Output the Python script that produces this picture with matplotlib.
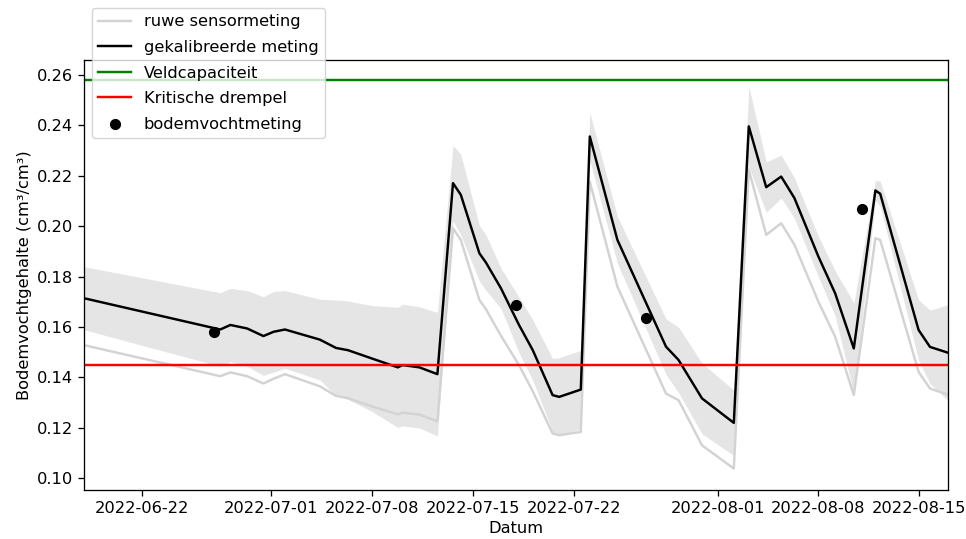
import matplotlib
matplotlib.use("Agg")
import matplotlib.pyplot as plt
import matplotlib.dates as mdates
import numpy as np
import pandas as pd

# --- data ---
tijdstippen = [
    "2022-06-18 00:00", "2022-06-27 11:00", "2022-06-28 04:00", "2022-06-29 08:00",
    "2022-06-30 11:00", "2022-07-01 04:00", "2022-07-01 23:00", "2022-07-04 09:00",
    "2022-07-05 12:00", "2022-07-06 08:00", "2022-07-08 00:00", "2022-07-09 19:00",
    "2022-07-10 03:00", "2022-07-11 07:00", "2022-07-12 13:00", "2022-07-13 15:00",
    "2022-07-14 04:00", "2022-07-15 11:00", "2022-07-15 22:00", "2022-07-16 23:00",
    "2022-07-18 05:00", "2022-07-19 04:00", "2022-07-20 13:00", "2022-07-21 00:00",
    "2022-07-22 12:00", "2022-07-23 03:00", "2022-07-25 01:00", "2022-07-28 10:00",
    "2022-07-29 07:00", "2022-07-30 22:00", "2022-08-02 03:00", "2022-08-03 04:00",
    "2022-08-04 09:00", "2022-08-05 10:00", "2022-08-06 08:00", "2022-08-08 00:00",
    "2022-08-09 04:00", "2022-08-10 11:00", "2022-08-11 23:00", "2022-08-12 07:00",
    "2022-08-14 23:00", "2022-08-15 18:00", "2022-08-17 00:00",
]
gekalibreerd = [
    0.1714, 0.1590, 0.1608, 0.1594, 0.1564, 0.1581, 0.1590, 0.1550,
    0.1517, 0.1508, 0.1475, 0.1440, 0.1449, 0.1440, 0.1413, 0.2170,
    0.2124, 0.1892, 0.1855, 0.1753, 0.1608, 0.1508, 0.1330, 0.1323,
    0.1352, 0.2355, 0.1945, 0.1522, 0.1469, 0.1317, 0.1220, 0.2395,
    0.2154, 0.2196, 0.2111, 0.1879, 0.1733, 0.1515, 0.2141, 0.2128,
    0.1588, 0.1521, 0.1498,
]
ruw = [
    0.1528, 0.1405, 0.1420, 0.1405, 0.1376, 0.1395, 0.1413, 0.1365,
    0.1327, 0.1318, 0.1285, 0.1254, 0.1260, 0.1253, 0.1226, 0.1991,
    0.1945, 0.1707, 0.1670, 0.1565, 0.1449, 0.1345, 0.1178, 0.1171,
    0.1184, 0.2176, 0.1760, 0.1336, 0.1310, 0.1131, 0.1039, 0.2223,
    0.1965, 0.2011, 0.1926, 0.1700, 0.1561, 0.1330, 0.1952, 0.1945,
    0.1422, 0.1356, 0.1332,
]
onzekerheid = [
    0.0125, 0.0146, 0.0145, 0.0150, 0.0156, 0.0160, 0.0154, 0.0160,
    0.0190, 0.0195, 0.0210, 0.0238, 0.0241, 0.0240, 0.0245, 0.0150,
    0.0160, 0.0110, 0.0110, 0.0080, 0.0110, 0.0120, 0.0145, 0.0155,
    0.0156, 0.0095, 0.0093, 0.0110, 0.0130, 0.0140, 0.0130, 0.0160,
    0.0100, 0.0085, 0.0080, 0.0080, 0.0090, 0.0180, 0.0040, 0.0050,
    0.0120, 0.0146, 0.0190,
]
meting_datum = ["2022-06-27", "2022-07-18", "2022-07-27", "2022-08-11"]
meting_waarde = [0.158, 0.1687, 0.1634, 0.2067]
veldcapaciteit = 0.258
kritische_drempel = 0.145

k = 1.17  # overall scale of the reference rendering
plt.rcParams.update({
    "font.size": 10 * k,
    "axes.linewidth": 0.8 * k,
    "xtick.major.size": 3.5 * k,
    "ytick.major.size": 3.5 * k,
    "xtick.major.width": 0.8 * k,
    "ytick.major.width": 0.8 * k,
})

t = pd.to_datetime(tijdstippen)
cal = np.array(gekalibreerd)
hw = np.array(onzekerheid)

fig = plt.figure(figsize=(9.66, 5.39), dpi=100)
ax = fig.add_axes([84 / 966, 1 - 490 / 539, 864 / 966, 430 / 539])

ax.fill_between(t, cal - hw, cal + hw, color="gray", alpha=0.2, linewidth=0)
ax.plot(t, ruw, color="lightgray", linewidth=1.5 * k, label="ruwe sensormeting")
ax.plot(t, cal, color="black", linewidth=1.5 * k, label="gekalibreerde meting")
ax.axhline(veldcapaciteit, color="green", linewidth=1.5 * k, label="Veldcapaciteit")
ax.axhline(kritische_drempel, color="red", linewidth=1.5 * k, label="Kritische drempel")
ax.scatter(pd.to_datetime(meting_datum), meting_waarde, color="black", s=36 * k * k,
           zorder=5, label="bodemvochtmeting")

ax.set_xlim(t[0], t[-1])
ax.set_ylim(0.0954, 0.2658)
ax.xaxis.set_major_locator(mdates.DayLocator(bymonthday=[1, 8, 15, 22]))
ax.xaxis.set_major_formatter(mdates.DateFormatter("%Y-%m-%d"))
ax.set_yticks(np.arange(0.10, 0.261, 0.02))

ax.set_xlabel("Datum")
ax.set_ylabel("Bodemvochtgehalte (cm³/cm³)")

ax.legend(loc="upper left", bbox_to_anchor=(0.009, 1.121), borderaxespad=0,
          labelspacing=0.65)

fig.savefig("out.png", dpi=100)
